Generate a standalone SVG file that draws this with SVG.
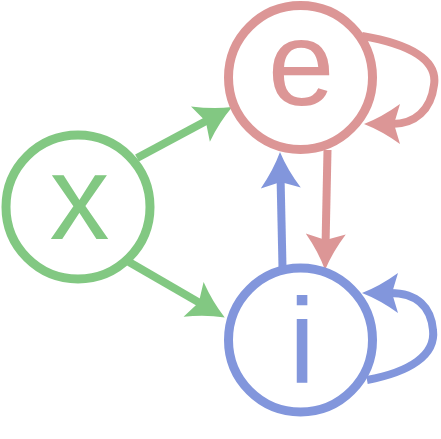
<svg xmlns="http://www.w3.org/2000/svg" width="441" height="439" viewBox="0 0 441 439">
<style>
.node{fill:#ffffff;stroke-width:9}
.lbl{font-family:"Liberation Sans",Arial,sans-serif;font-size:120px;text-anchor:middle}
.edge{fill:none;stroke-width:8}
.g{stroke:#82c882}.gf{fill:#82c882}
.r{stroke:#dc9696}.rf{fill:#dc9696}
.b{stroke:#8296dc}.bf{fill:#8296dc}
</style>
<defs>
<marker id="ag" markerUnits="userSpaceOnUse" markerWidth="80" markerHeight="80" refX="0" refY="0" orient="auto" overflow="visible" viewBox="-40 -40 80 80">
<path class="gf" d="M28,0 Q10,-7 -8,-20 L-2,0 L-8,20 Q10,7 28,0Z"/>
</marker>
<marker id="ar" markerUnits="userSpaceOnUse" markerWidth="80" markerHeight="80" refX="0" refY="0" orient="auto" overflow="visible" viewBox="-40 -40 80 80">
<path class="rf" d="M28,0 Q10,-7 -8,-20 L-2,0 L-8,20 Q10,7 28,0Z"/>
</marker>
<marker id="ab" markerUnits="userSpaceOnUse" markerWidth="80" markerHeight="80" refX="0" refY="0" orient="auto" overflow="visible" viewBox="-40 -40 80 80">
<path class="bf" d="M28,0 Q10,-7 -8,-20 L-2,0 L-8,20 Q10,7 28,0Z"/>
</marker>
</defs>
<g id="connectors">
<path id="x-e" class="edge g" d="M137,158 L207.5,120.3" marker-end="url(#ag)"/>
<path id="x-i" class="edge g" d="M129,262 L200.5,303.4" marker-end="url(#ag)"/>
<path id="i-e" class="edge b" d="M282.5,267 L280.6,180" marker-end="url(#ab)"/>
<path id="e-i" class="edge r" d="M327.5,150 L325.6,242" marker-end="url(#ar)"/>
<path id="e-e" class="edge r" d="M362,36 C410,44 438,60 434,85 C431,110 415,124 392,124" marker-end="url(#ar)"/>
<path id="i-i" class="edge b" d="M367,380 C410,372 436,355 433,330 C431,308 418,293 390,293" marker-end="url(#ab)"/>
</g>
<g id="node-x">
<circle class="node g" cx="78" cy="207" r="72"/>
<text class="lbl gf" x="79.5" y="239">x</text>
</g>
<g id="node-e">
<circle class="node r" cx="300.5" cy="77.5" r="72"/>
<text class="lbl rf" x="301" y="105">e</text>
</g>
<g id="node-i">
<circle class="node b" cx="300.5" cy="340" r="72"/>
<text class="lbl bf" x="302" y="382">i</text>
</g>
</svg>
